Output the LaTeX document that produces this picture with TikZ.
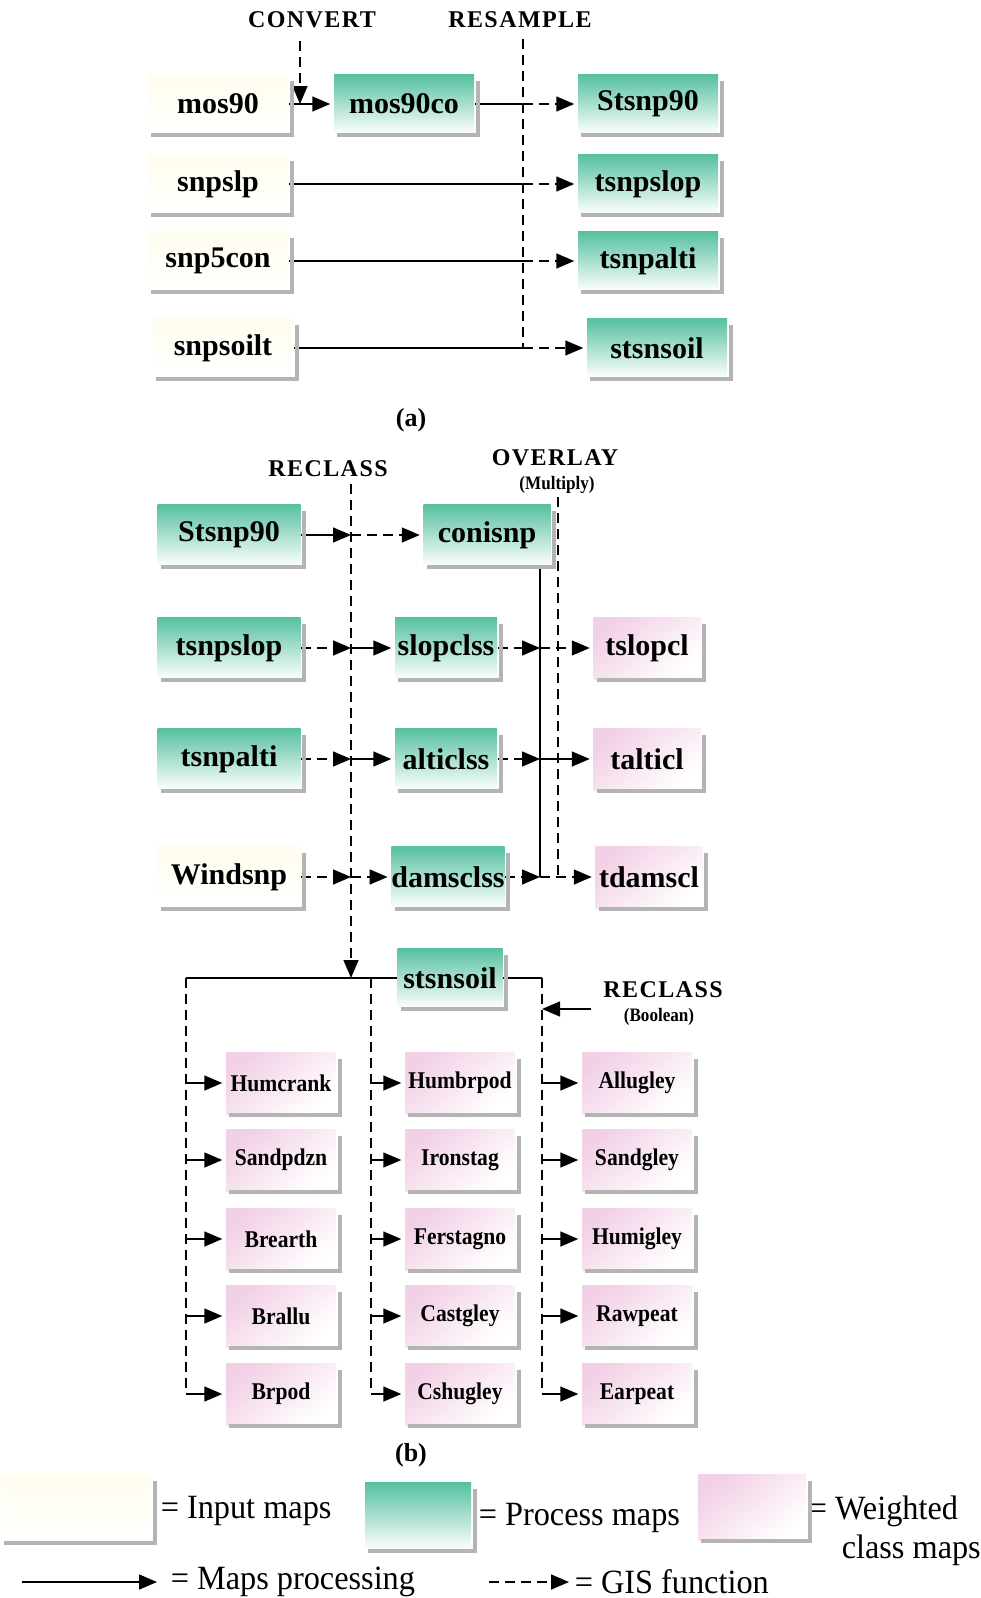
\documentclass[tikz,border=0pt]{standalone}
\usepackage{fontspec}
\setmainfont{Liberation Serif}
\usetikzlibrary{arrows.meta}

\definecolor{procteal}{RGB}{84,192,160}
\definecolor{inputcream}{RGB}{255,253,238}
\definecolor{weightpink}{RGB}{242,208,230}
\definecolor{bargray}{RGB}{180,180,180}

\newcommand{\mapfont}{\fontsize{30}{32}\selectfont\bfseries}
\newcommand{\classfont}{\fontsize{24}{26}\selectfont\bfseries\addfontfeatures{FakeStretch=0.9}}
\newcommand{\opfont}{\fontsize{24}{26}\selectfont\bfseries\addfontfeatures{LetterSpace=6}}
\newcommand{\notefont}{\fontsize{19}{21}\selectfont\bfseries\addfontfeatures{FakeStretch=0.9}}
\newcommand{\keyfont}{\fontsize{34}{36}\selectfont\addfontfeatures{FakeStretch=0.95}}

\begin{document}
\begin{tikzpicture}[x=1pt,y=-1pt,line width=1.5pt]
  \tikzstyle{input}=[minimum width=140pt,minimum height=60pt,inner sep=0pt,top color=inputcream,bottom color=white,font=\mapfont]
  \tikzstyle{process}=[input,top color=procteal,middle color=procteal!45,bottom color=white]
  \tikzstyle{weighted}=[input,top color=weightpink,middle color=weightpink!35,bottom color=white,shading angle=40]
  \tikzstyle{class}=[weighted,minimum width=110pt,minimum height=62pt,font=\classfont]
  \tikzstyle{bar}=[draw=bargray,line width=4pt]
  \tikzstyle{proc}=[-{Triangle[length=18pt,width=15pt]},shorten >=3pt]
  \tikzstyle{gis}=[proc,dash pattern=on 10pt off 6pt]
  \tikzstyle{op}=[font=\opfont,inner sep=0pt]
  \tikzstyle{note}=[font=\notefont,inner sep=0pt]
  \tikzstyle{key}=[font=\keyfont,anchor=west,inner sep=0pt]

  \useasboundingbox (0,0) rectangle (981,1598);

  % (a) convert and resample
  \node [op] (convert) at (312,20) {CONVERT};
  \node [op] (resample) at (520,20) {RESAMPLE};
  \node [input] (mos90) at (218,104) {mos90};
  \node [process] (mos90co) at (404,104) {mos90co};
  \node [process] (stsnp90a) at (648,104) {Stsnp90};
  \node [input] (snpslp) at (218,184) {snpslp};
  \node [process] (tsnpslopa) at (648,184) {tsnpslop};
  \node [input] (snp5con) at (218,261) {snp5con};
  \node [process] (tsnpaltia) at (648,261) {tsnpalti};
  \node [input] (snpsoilt) at (223,348) {snpsoilt};
  \node [process] (stsnsoila) at (657,348) {stsnsoil};
  \node [font=\fontsize{26}{28}\selectfont\bfseries] (capa) at (411,420) {(a)};

  \coordinate (convtop) at (300,41);
  \coordinate (rstop) at (523,39);
  \coordinate (rsend) at (523,348);
  \draw [dash pattern=on 10pt off 6pt] (rstop) -- (rsend);
  \draw [gis,shorten >=0pt] (convtop) -- (convtop |- mos90);
  \path [proc] (mos90) edge (mos90co);
  \draw (mos90co) -- (mos90co -| rstop);
  \draw [gis] (mos90co -| rstop) -- (stsnp90a);
  \draw (snpslp) -- (snpslp -| rstop);
  \draw [gis] (snpslp -| rstop) -- (tsnpslopa);
  \draw (snp5con) -- (snp5con -| rstop);
  \draw [gis] (snp5con -| rstop) -- (tsnpaltia);
  \draw (snpsoilt) -- (rsend);
  \draw [gis] (rsend) -- (stsnsoila);

  % (b) reclass and overlay
  \node [op] (reclass) at (328,469) {RECLASS};
  \node [op] (overlay) at (555,458) {OVERLAY};
  \node [note] (multiply) at (557,485) {(Multiply)};
  \node [process,minimum width=143pt,minimum height=62pt] (stsnp90b) at (229,535) {Stsnp90};
  \node [process,minimum width=127pt,minimum height=62pt] (conisnp) at (487,535) {conisnp};
  \node [process,minimum width=143pt,minimum height=62pt] (tsnpslopb) at (229,648) {tsnpslop};
  \node [process,minimum width=102pt,minimum height=62pt] (slopclss) at (446,648) {slopclss};
  \node [weighted,minimum width=107pt,minimum height=62pt] (tslopcl) at (647,648) {tslopcl};
  \node [process,minimum width=143pt,minimum height=62pt] (tsnpaltib) at (229,759) {tsnpalti};
  \node [process,minimum width=102pt,minimum height=62pt] (alticlss) at (446,759) {alticlss};
  \node [weighted,minimum width=107pt,minimum height=62pt] (talticl) at (647,759) {talticl};
  \node [input,minimum width=143pt,minimum height=62pt] (windsnp) at (229,877) {Windsnp};
  \node [process,minimum width=102pt,minimum height=62pt] (damsclss) at (448,877) {damsclss};
  \node [weighted,minimum width=107pt,minimum height=62pt] (tdamscl) at (649,877) {tdamscl};

  \coordinate (rctop) at (351,484);
  \coordinate (rcend) at (351,978);
  \coordinate (ovtop) at (558,497);
  \coordinate (ovend) at (558,877);
  \coordinate (ovjoin) at (540,877);
  \draw [gis,shorten >=0pt] (rctop) -- (rcend);
  \draw [dash pattern=on 10pt off 6pt] (ovtop) -- (ovend);
  \draw (conisnp.south -| ovjoin) -- (ovjoin);

  \draw [proc,shorten >=0pt] (stsnp90b) -- (stsnp90b -| rctop);
  \draw [gis] (stsnp90b -| rctop) -- (conisnp);
  \draw [gis,shorten >=0pt] (tsnpslopb) -- (tsnpslopb -| rctop);
  \draw [proc] (tsnpslopb -| rctop) -- (slopclss);
  \draw [gis,shorten >=0pt] (slopclss) -- (slopclss -| ovjoin);
  \draw [gis] (slopclss -| ovjoin) -- (tslopcl);
  \draw [gis,shorten >=0pt] (tsnpaltib) -- (tsnpaltib -| rctop);
  \draw [proc] (tsnpaltib -| rctop) -- (alticlss);
  \draw [gis,shorten >=0pt] (alticlss) -- (alticlss -| ovjoin);
  \draw [proc] (alticlss -| ovjoin) -- (talticl);
  \draw [gis,shorten >=0pt] (windsnp) -- (windsnp -| rctop);
  \draw [gis] (windsnp -| rctop) -- (damsclss);
  \draw [gis,shorten >=0pt] (damsclss) -- (ovjoin);
  \draw [gis] (ovjoin) -- (tdamscl);

  % (b) boolean reclass of the soil map
  \node [process,minimum width=105pt,minimum height=60pt] (stsnsoilb) at (450,978) {stsnsoil};
  \node [op] (reclassbool) at (663,990) {RECLASS};
  \node [note] (boolean) at (659,1017) {(Boolean)};

  \node [class] (humcrank) at (281,1083) {Humcrank};
  \node [class] (sandpdzn) at (281,1160) {Sandpdzn};
  \node [class] (brearth) at (281,1239) {Brearth};
  \node [class] (brallu) at (281,1316) {Brallu};
  \node [class] (brpod) at (281,1394) {Brpod};
  \node [class] (humbrpod) at (460,1083) {Humbrpod};
  \node [class] (ironstag) at (460,1160) {Ironstag};
  \node [class] (ferstagno) at (460,1239) {Ferstagno};
  \node [class] (castgley) at (460,1316) {Castgley};
  \node [class] (cshugley) at (460,1394) {Cshugley};
  \node [class] (allugley) at (637,1083) {Allugley};
  \node [class] (sandgley) at (637,1160) {Sandgley};
  \node [class] (humigley) at (637,1239) {Humigley};
  \node [class] (rawpeat) at (637,1316) {Rawpeat};
  \node [class] (earpeat) at (637,1394) {Earpeat};
  \node [font=\fontsize{26}{28}\selectfont\bfseries] (capb) at (411,1455) {(b)};

  \coordinate (brleft) at (186,978);
  \coordinate (brmid) at (371,978);
  \coordinate (brright) at (542,978);
  \coordinate (boolfrom) at (591,1009);
  \draw (brleft) -- (stsnsoilb);
  \draw (stsnsoilb) -- (brright);
  \draw [dash pattern=on 10pt off 6pt] (brleft) -- (brleft |- brpod);
  \draw [dash pattern=on 10pt off 6pt] (brmid) -- (brmid |- cshugley);
  \draw [dash pattern=on 10pt off 6pt] (brright) -- (brright |- earpeat);
  \draw [proc,shorten >=0pt] (boolfrom) -- (boolfrom -| brright);
  \foreach \m in {humcrank,sandpdzn,brearth,brallu,brpod}
    \draw [proc] (brleft |- \m) -- (\m);
  \foreach \m in {humbrpod,ironstag,ferstagno,castgley,cshugley}
    \draw [proc] (brmid |- \m) -- (\m);
  \foreach \m in {allugley,sandgley,humigley,rawpeat,earpeat}
    \draw [proc] (brright |- \m) -- (\m);

  % key
  \node [input,minimum width=150pt,minimum height=68pt] (keyinput) at (76,1508) {};
  \node [process,minimum width=106pt,minimum height=68pt] (keyprocess) at (418,1516) {};
  \node [weighted,minimum width=108pt,minimum height=66pt] (keyweighted) at (752,1507) {};
  \node [key] (keyinputtxt) at (160,1511) {= Input maps};
  \node [key] (keyprocesstxt) at (478,1518) {= Process maps};
  \node [key] (keyweightedtxt) at (808,1511) {= Weighted};
  \node [key] (keyclasstxt) at (841,1550) {class maps};
  \coordinate (procfrom) at (22,1582);
  \coordinate (procto) at (160,1582);
  \coordinate (gisfrom) at (489,1582);
  \coordinate (gisto) at (572,1582);
  \draw [proc] (procfrom) -- (procto);
  \draw [gis] (gisfrom) -- (gisto);
  \node [key] (keyproctxt) at (170,1582) {= Maps processing};
  \node [key] (keygistxt) at (574,1582) {= GIS function};

  % drop shadows of the map boxes
  \foreach \m in {mos90,mos90co,stsnp90a,snpslp,tsnpslopa,snp5con,tsnpaltia,snpsoilt,stsnsoila,
      stsnp90b,conisnp,tsnpslopb,slopclss,tslopcl,tsnpaltib,alticlss,talticl,windsnp,damsclss,tdamscl,
      stsnsoilb,humcrank,sandpdzn,brearth,brallu,brpod,humbrpod,ironstag,ferstagno,castgley,cshugley,
      allugley,sandgley,humigley,rawpeat,earpeat,keyinput,keyprocess,keyweighted}
    \draw [bar] ([xshift=3pt,yshift=-8pt]\m.north east) -- ([xshift=3pt]\m.south east) -- ([xshift=4pt]\m.south west);
\end{tikzpicture}
\end{document}
